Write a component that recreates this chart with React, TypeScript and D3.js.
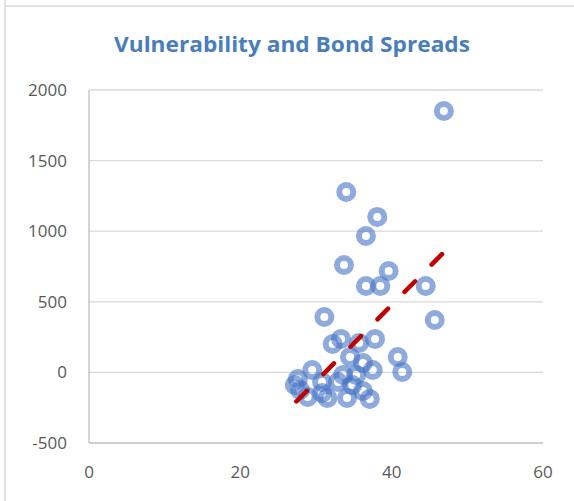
import React, { useEffect, useRef } from "react";
import * as d3 from "d3";

// vulnerability index (x) vs bond spread in bp (y)
const vulnerability = [
  46.9, 34.0, 38.1, 36.6, 33.7, 39.6, 36.6, 38.5, 44.5, 45.7, 31.1, 40.8,
  41.4, 32.2, 33.3, 35.7, 37.8, 34.5, 36.2, 37.5, 29.5, 30.8, 27.2, 27.6,
  33.6, 34.8, 36.2, 37.1, 34.1, 30.8, 28.9, 31.5, 27.9, 35.3, 32.9,
];
const spreads = [
  1851, 1278, 1101, 966, 761, 718, 612, 612, 612, 371, 392, 109,
  3, 201, 237, 208, 237, 109, 67, 17, 17, -68, -89, -47,
  -18, -89, -132, -188, -181, -146, -174, -181, -125, -18, -68,
];

// linear trendline end points
const trendX = [27.4, 46.65];
const trendY = [-206, 838];

const xTicks = [0, 20, 40, 60];
const yTicks = [-500, 0, 500, 1000, 1500, 2000];

const chartTitle = "Vulnerability and Bond Spreads";

export default function App() {
  const svgRef = useRef<SVGSVGElement>(null);

  useEffect(() => {
    if (!svgRef.current) return;
    const svg = d3.select(svgRef.current);
    svg.selectAll("*").remove();

    const width = 574;
    const height = 501;
    const margin = { top: 90, right: 31, bottom: 58, left: 89 };
    const font = "'Open Sans', 'Noto Sans', sans-serif";

    const x = d3.scaleLinear().domain([0, 60]).range([margin.left, width - margin.right]);
    const y = d3.scaleLinear().domain([-500, 2000]).range([height - margin.bottom, margin.top]);

    svg.append("rect").attr("width", width).attr("height", height).attr("fill", "#fff");

    // chart frame edges
    svg.append("line")
      .attr("x1", 5).attr("x2", 5).attr("y1", 0).attr("y2", height)
      .attr("stroke", "#d9d9d9").attr("stroke-width", 1.5);
    svg.append("line")
      .attr("x1", 5).attr("x2", width).attr("y1", 6).attr("y2", 6)
      .attr("stroke", "#d9d9d9").attr("stroke-width", 1.5);

    svg.append("text")
      .attr("x", 292)
      .attr("y", 52)
      .attr("text-anchor", "middle")
      .attr("font-family", font)
      .attr("font-size", 22)
      .attr("font-weight", "bold")
      .attr("fill", "#4a7ebb")
      .attr("textLength", 356)
      .attr("lengthAdjust", "spacingAndGlyphs")
      .text(chartTitle);

    // gridlines
    svg.append("g")
      .selectAll("line")
      .data(yTicks.filter(t => t !== -500))
      .enter()
      .append("line")
      .attr("x1", x(0)).attr("x2", x(60))
      .attr("y1", d => y(d)).attr("y2", d => y(d))
      .attr("stroke", "#d9d9d9").attr("stroke-width", 1.3);

    // axes lines
    svg.append("line")
      .attr("x1", x(0)).attr("x2", x(0)).attr("y1", y(2000)).attr("y2", y(-500))
      .attr("stroke", "#bfbfbf").attr("stroke-width", 1.3);
    svg.append("line")
      .attr("x1", x(0)).attr("x2", x(60)).attr("y1", y(-500)).attr("y2", y(-500))
      .attr("stroke", "#bfbfbf").attr("stroke-width", 1.3);

    svg.append("g")
      .selectAll("text")
      .data(yTicks)
      .enter()
      .append("text")
      .attr("x", 67)
      .attr("y", d => y(d) + 6)
      .attr("text-anchor", "end")
      .attr("font-family", font)
      .attr("font-size", 17)
      .attr("fill", "#595959")
      .text(d => d);

    svg.append("g")
      .selectAll("text")
      .data(xTicks)
      .enter()
      .append("text")
      .attr("x", d => x(d))
      .attr("y", 478)
      .attr("text-anchor", "middle")
      .attr("font-family", font)
      .attr("font-size", 17)
      .attr("fill", "#595959")
      .text(d => d);

    // scatter markers (rings)
    svg.append("g")
      .selectAll("circle")
      .data(vulnerability.map((v, i) => [v, spreads[i]]))
      .enter()
      .append("circle")
      .attr("cx", d => x(d[0]))
      .attr("cy", d => y(d[1]))
      .attr("r", 7)
      .attr("fill", "none")
      .attr("stroke", "#4472c4")
      .attr("stroke-opacity", 0.6)
      .attr("stroke-width", 6);

    // trendline
    const line = d3.line<number>()
      .x(d => x(trendX[d]))
      .y(d => y(trendY[d]));
    svg.append("path")
      .attr("d", line([0, 1]))
      .attr("fill", "none")
      .attr("stroke", "#c00000")
      .attr("stroke-width", 4.5)
      .attr("stroke-linecap", "round")
      .attr("stroke-dasharray", "15 23.5");
  }, []);

  return (
    <svg
      ref={svgRef}
      width={574}
      height={501}
      viewBox="0 0 574 501"
      style={{ position: "absolute", left: 0, top: 0, display: "block" }}
    />
  );
}
